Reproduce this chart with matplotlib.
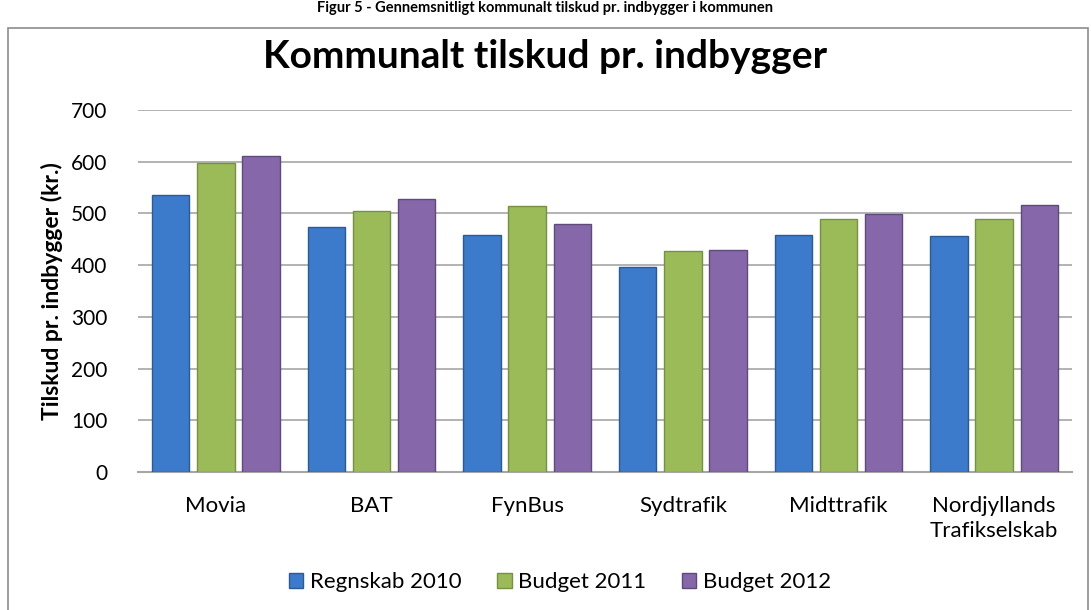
import numpy as np
import matplotlib
matplotlib.use('Agg')
import matplotlib.pyplot as plt
from matplotlib.patches import Rectangle

# Data
categories = ['Movia', 'BAT', 'FynBus', 'Sydtrafik', 'Midttrafik', 'Nordjyllands\nTrafikselskab']
regnskab_2010 = [535, 473, 459, 397, 459, 457]
budget_2011 = [597, 504, 514, 427, 490, 490]
budget_2012 = [611, 528, 479, 430, 499, 517]
series_names = ['Regnskab 2010', 'Budget 2011', 'Budget 2012']
yticks = [0, 100, 200, 300, 400, 500, 600, 700]

colors = ['#3c7acb', '#9bbb59', '#8667aa']
edges = ['#2c5a94', '#76913f', '#5f4a7c']

plt.rcParams['font.family'] = ['Lato', 'DejaVu Sans']

fig = plt.figure(figsize=(10.91, 6.10), dpi=100)
ax = fig.add_axes([138 / 1091, 1 - 472 / 610, (1072 - 138) / 1091, (472 - 110) / 610])

x = np.arange(len(categories))
offsets = [-0.29, 0.0, 0.29]
width = 0.24
for vals, off, c, ec, name in zip([regnskab_2010, budget_2011, budget_2012],
                                  offsets, colors, edges, series_names):
    ax.bar(x + off, vals, width, color=c, edgecolor=ec, linewidth=1.0,
           label=name, zorder=3)

ax.set_xlim(-0.5, len(categories) - 0.5)
ax.set_ylim(0, 700)
ax.set_yticks(yticks)
ax.set_yticklabels([str(v) for v in yticks], fontsize=15)
ax.set_xticks(x)
ax.set_xticklabels(categories, fontsize=16, va='top', linespacing=1.35)
ax.tick_params(axis='y', length=0, pad=22)
ax.tick_params(axis='x', length=0, pad=17)
ax.yaxis.grid(True, color='#a6a6a6', linewidth=1.2, zorder=0)
ax.set_axisbelow(True)
for s in ['top', 'right', 'left']:
    ax.spines[s].set_visible(False)
ax.spines['bottom'].set_color('#a6a6a6')
ax.spines['bottom'].set_linewidth(1.5)

ax.set_ylabel('Tilskud pr. indbygger (kr.)', fontsize=16.5, fontweight='bold', labelpad=6)

# Chart title
fig.text(545 / 1091, 1 - 57 / 610, 'Kommunalt tilskud pr. indbygger',
         ha='center', va='center', fontsize=28, fontweight='bold')

# Caption at the top of the image
fig.text(545 / 1091, 1 - 1 / 610,
         'Figur 5 - Gennemsnitligt kommunalt tilskud pr. indbygger i kommunen',
         ha='center', va='top', fontsize=10.5, fontweight='bold')

# Outer chart frame
fig.patches.append(Rectangle((8 / 1091, -0.05), (1088 - 8) / 1091, 1.05 - 28 / 610,
                             transform=fig.transFigure, fill=False,
                             edgecolor='#8c8c8c', linewidth=1.2))

leg = fig.legend(loc='center', bbox_to_anchor=(560 / 1091, 1 - 582 / 610), ncol=3,
                 frameon=False, fontsize=16, handlelength=0.65, handleheight=0.65,
                 handletextpad=0.3, columnspacing=1.6)

fig.savefig('out.png', dpi=100)
